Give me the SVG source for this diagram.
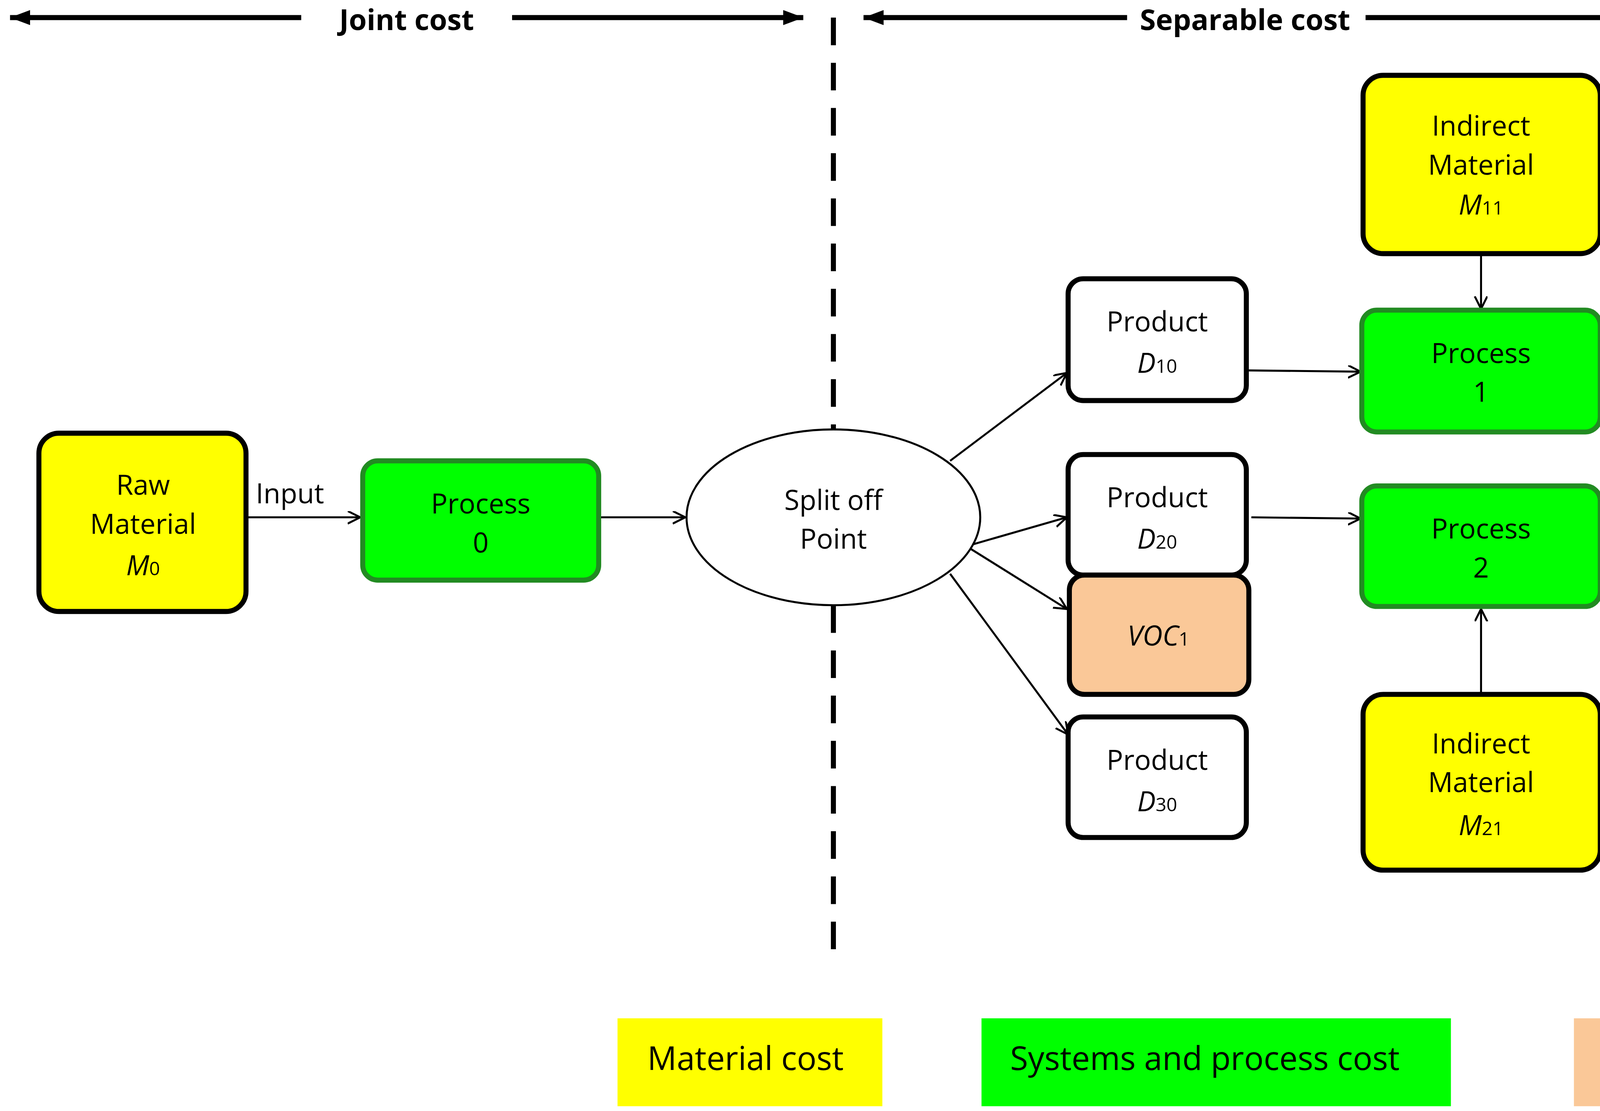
<svg xmlns="http://www.w3.org/2000/svg" width="5022" height="2843" viewBox="0 0 5022 2843">
<style>
.t{font-family:"Open Sans","Liberation Sans",sans-serif;font-size:22px;text-anchor:middle;fill:#000}
.b{font-weight:bold;font-size:23px}
.i{font-style:italic}
.s{font-size:15px;font-style:normal}
.y{fill:#ffff00;stroke:#000;stroke-width:4}
.w{fill:#fff;stroke:#000;stroke-width:4}
.o{fill:#fac898;stroke:#000;stroke-width:4}
.g{fill:#00ff00;stroke:#228b22;stroke-width:4}
.c{stroke:#000;stroke-width:1.6;fill:none;marker-end:url(#a)}
.h{stroke:#000;stroke-width:4;fill:none}
.d{stroke:#000;stroke-width:4;stroke-dasharray:22,14;fill:none}
</style>
<defs>
<marker id="a" markerWidth="12" markerHeight="12" refX="10" refY="5" orient="auto" markerUnits="userSpaceOnUse"><path d="M0,0 L10,5 L0,10" fill="none" stroke="#000" stroke-width="1.6"/></marker>
<marker id="f" markerWidth="14" markerHeight="14" refX="12" refY="6" orient="auto" markerUnits="userSpaceOnUse"><path d="M0,0 L12,6 L0,12 Z" fill="#000"/></marker>
<marker id="hl" markerWidth="18" markerHeight="14" refX="16" refY="6" orient="auto-start-reverse" markerUnits="userSpaceOnUse"><path d="M0,0 L16,6 L0,12 Z" fill="#000"/></marker>
</defs>
<rect width="5022" height="2843" fill="#fff"/>
<g transform="scale(3.2131)">
<g id="header">
<line class="h" x1="8" y1="14" x2="240" y2="14" marker-start="url(#hl)"/>
<line class="h" x1="408" y1="14" x2="640" y2="14" marker-end="url(#hl)"/>
<text class="t b" x="324" y="24">Joint cost</text>
<line class="h" x1="688" y1="14" x2="898" y2="14" marker-start="url(#hl)"/>
<line class="h" x1="1088" y1="14" x2="1296" y2="14" marker-end="url(#hl)"/>
<text class="t b" x="992" y="24">Separable cost</text>
<line class="d" x1="664" y1="14" x2="664" y2="765"/>
<line class="d" x1="1320" y1="14" x2="1320" y2="765"/>
</g>
<g id="connectors">
<line class="c" x1="196" y1="412" x2="287" y2="412" marker-end="url(#f)"/>
<text class="t" x="231" y="401">Input</text>
<line class="c" x1="477" y1="412" x2="546" y2="412"/>
<line class="c" x1="757" y1="367" x2="850" y2="297"/>
<line class="c" x1="770" y1="435" x2="850" y2="412"/>
<line class="c" x1="770" y1="435" x2="850" y2="485"/>
<line class="c" x1="757" y1="457" x2="851" y2="585"/>
<line class="c" x1="995" y1="295" x2="1084" y2="296"/>
<line class="c" x1="997" y1="412" x2="1084" y2="413"/>
<line class="c" x1="1180" y1="202" x2="1180" y2="246" marker-end="url(#f)"/>
<line class="c" x1="1180" y1="553" x2="1180" y2="485" marker-end="url(#f)"/>
<line class="c" x1="1275" y1="270" x2="1320" y2="250"/>
<line class="c" x1="1275" y1="295" x2="1320" y2="318"/>
<line class="c" x1="1275" y1="458" x2="1320" y2="436"/>
<line class="c" x1="1275" y1="462" x2="1320" y2="485"/>
</g>
<g id="raw"><rect class="y" x="31" y="345" width="165" height="142" rx="16"/><text class="t" x="114" y="394">Raw</text><text class="t" x="114" y="425">Material</text><text class="t i" x="114" y="458">M<tspan class="s">0</tspan></text></g>
<g id="p0"><rect class="g" x="289" y="367" width="188" height="95" rx="12"/><text class="t" x="383" y="409">Process</text><text class="t" x="383" y="440">0</text></g>
<g id="split"><ellipse cx="664" cy="412" rx="117" ry="70" fill="#fff" stroke="#000" stroke-width="1.6"/><text class="t" x="664" y="406">Split off</text><text class="t" x="664" y="437">Point</text></g>
<g id="d10"><rect class="w" x="851" y="222" width="142" height="97" rx="12"/><text class="t" x="922" y="264">Product</text><text class="t i" x="922" y="297">D<tspan class="s">10</tspan></text></g>
<g id="d20"><rect class="w" x="851" y="362" width="142" height="96" rx="12"/><text class="t" x="922" y="404">Product</text><text class="t i" x="922" y="437">D<tspan class="s">20</tspan></text></g>
<g id="voc1"><rect class="o" x="852" y="458" width="143" height="95" rx="12"/><text class="t i" x="923" y="514">VOC<tspan class="s">1</tspan></text></g>
<g id="d30"><rect class="w" x="851" y="571" width="142" height="96" rx="12"/><text class="t" x="922" y="613">Product</text><text class="t i" x="922" y="646">D<tspan class="s">30</tspan></text></g>
<g id="m11"><rect class="y" x="1086" y="60" width="189" height="142" rx="16"/><text class="t" x="1180" y="108">Indirect</text><text class="t" x="1180" y="139">Material</text><text class="t i" x="1180" y="171">M<tspan class="s">11</tspan></text></g>
<g id="p1"><rect class="g" x="1085" y="247" width="190" height="97" rx="12"/><text class="t" x="1180" y="289">Process</text><text class="t" x="1180" y="320">1</text></g>
<g id="p2"><rect class="g" x="1085" y="387" width="190" height="96" rx="12"/><text class="t" x="1180" y="429">Process</text><text class="t" x="1180" y="460">2</text></g>
<g id="m21"><rect class="y" x="1086" y="553" width="189" height="140" rx="16"/><text class="t" x="1180" y="600">Indirect</text><text class="t" x="1180" y="631">Material</text><text class="t i" x="1180" y="665">M<tspan class="s">21</tspan></text></g>
<g id="voc2"><rect class="o" x="1342" y="153" width="143" height="96" rx="12"/><text class="t i" x="1413" y="211">VOC<tspan class="s">2</tspan></text></g>
<g id="d11"><rect class="w" x="1342" y="271" width="143" height="96" rx="12"/><text class="t" x="1413" y="313">Product</text><text class="t i" x="1413" y="346">D<tspan class="s">11</tspan></text></g>
<g id="voc3"><rect class="o" x="1342" y="388" width="143" height="96" rx="12"/><text class="t i" x="1413" y="446">VOC<tspan class="s">3</tspan></text></g>
<g id="d21"><rect class="w" x="1342" y="505" width="143" height="97" rx="12"/><text class="t" x="1413" y="547">Product</text><text class="t i" x="1413" y="580">D<tspan class="s">21</tspan></text></g>
<g id="legend">
<rect x="492" y="811" width="211" height="70" fill="#ffff00"/><text class="t" x="594" y="852" style="font-size:26px">Material cost</text>
<rect x="782" y="811" width="374" height="70" fill="#00ff00"/><text class="t" x="960" y="852" style="font-size:26px">Systems and process cost</text>
<rect x="1254" y="811" width="304" height="70" fill="#fac898"/><text class="t" x="1389" y="852" style="font-size:26px">VOC emission cost</text>
</g>
</g>
</svg>
